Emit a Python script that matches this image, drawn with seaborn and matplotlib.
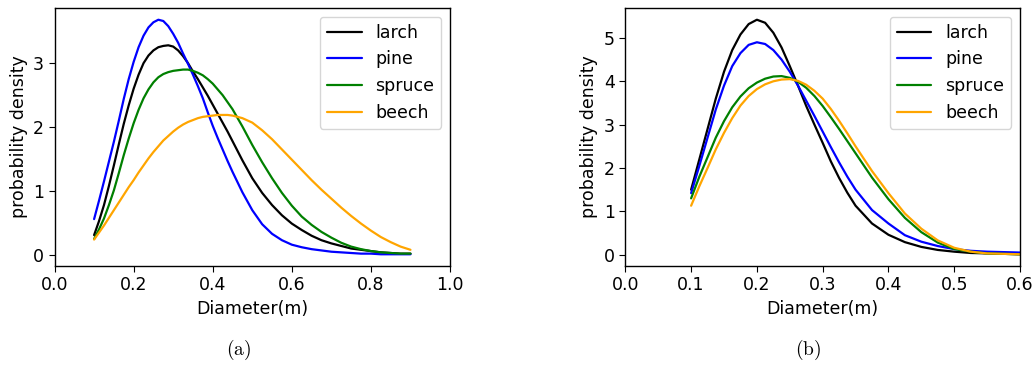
#%% Diameter distributions per species - two panels

import numpy as np
import pandas as pd
import seaborn as sns
import matplotlib
matplotlib.use('Agg')
import matplotlib.pyplot as plt

#%% Values

species = ['larch', 'pine', 'spruce', 'beech']
cores = {'larch': 'black', 'pine': 'blue', 'spruce': 'green', 'beech': 'orange'}

# panel (a)
diam_a = [0.1000, 0.1125, 0.1250, 0.1375, 0.1500, 0.1625, 0.1750, 0.1875, 0.2000, 0.2125,
          0.2250, 0.2375, 0.2500, 0.2625, 0.2750, 0.2875, 0.3000, 0.3125, 0.3250, 0.3375,
          0.3500, 0.3625, 0.3750, 0.3875, 0.4000, 0.4125, 0.4250, 0.4375, 0.4500,
          0.475, 0.500, 0.525, 0.550, 0.575, 0.600, 0.625, 0.650, 0.675, 0.700,
          0.725, 0.750, 0.775, 0.800, 0.825, 0.850, 0.875, 0.900]
larch_a = [0.31, 0.53, 0.78, 1.08, 1.40, 1.73, 2.05, 2.34, 2.60, 2.82,
           3.00, 3.12, 3.20, 3.25, 3.27, 3.28, 3.26, 3.20, 3.11, 3.00,
           2.87, 2.75, 2.62, 2.49, 2.35, 2.21, 2.07, 1.93, 1.78,
           1.48, 1.20, 0.97, 0.78, 0.62, 0.49, 0.39, 0.30, 0.23, 0.18,
           0.14, 0.10, 0.08, 0.06, 0.04, 0.03, 0.02, 0.02]
pine_a = [0.56, 0.85, 1.15, 1.46, 1.77, 2.10, 2.44, 2.75, 3.02, 3.25,
          3.43, 3.56, 3.64, 3.68, 3.66, 3.58, 3.46, 3.32, 3.15, 2.99,
          2.82, 2.64, 2.45, 2.23, 2.02, 1.83, 1.65, 1.47, 1.30,
          0.98, 0.70, 0.48, 0.33, 0.23, 0.16, 0.12, 0.09, 0.07, 0.05,
          0.04, 0.03, 0.02, 0.02, 0.01, 0.01, 0.01, 0.01]
spruce_a = [0.25, 0.40, 0.57, 0.78, 1.01, 1.28, 1.56, 1.82, 2.06, 2.27,
            2.45, 2.59, 2.70, 2.78, 2.83, 2.86, 2.88, 2.89, 2.90, 2.90,
            2.88, 2.85, 2.81, 2.75, 2.68, 2.59, 2.50, 2.39, 2.28,
            2.01, 1.72, 1.45, 1.20, 0.97, 0.77, 0.60, 0.47, 0.36, 0.27,
            0.19, 0.13, 0.09, 0.06, 0.04, 0.03, 0.02, 0.02]
beech_a = [0.24, 0.35, 0.46, 0.58, 0.70, 0.82, 0.94, 1.06, 1.17, 1.29,
           1.40, 1.51, 1.61, 1.70, 1.79, 1.86, 1.93, 1.99, 2.04, 2.08,
           2.11, 2.14, 2.16, 2.17, 2.18, 2.19, 2.19, 2.19, 2.18,
           2.14, 2.07, 1.95, 1.81, 1.65, 1.49, 1.33, 1.17, 1.02, 0.88,
           0.74, 0.61, 0.49, 0.38, 0.28, 0.20, 0.13, 0.08]

# panel (b)
diam_b = [0.1000, 0.1125, 0.1250, 0.1375, 0.1500, 0.1625, 0.1750, 0.1875, 0.2000, 0.2125,
          0.2250, 0.2375, 0.2500, 0.2625, 0.2750, 0.2875, 0.3000, 0.3125, 0.3250, 0.3375,
          0.3500, 0.375, 0.400, 0.425, 0.450, 0.475, 0.500, 0.525, 0.550, 0.575,
          0.600]
larch_b = [1.50, 2.20, 2.90, 3.60, 4.22, 4.72, 5.08, 5.32, 5.42, 5.35,
           5.12, 4.78, 4.35, 3.90, 3.43, 3.00, 2.58, 2.15, 1.77, 1.43,
           1.13, 0.72, 0.46, 0.29, 0.18, 0.11, 0.07, 0.04, 0.03, 0.02,
           0.01]
pine_b = [1.42, 2.05, 2.70, 3.35, 3.90, 4.35, 4.65, 4.84, 4.90, 4.86,
          4.72, 4.50, 4.22, 3.90, 3.55, 3.20, 2.84, 2.48, 2.13, 1.80,
          1.50, 1.03, 0.72, 0.45, 0.30, 0.20, 0.13, 0.09, 0.07, 0.06,
          0.05]
spruce_b = [1.30, 1.80, 2.25, 2.70, 3.08, 3.40, 3.65, 3.84, 3.97, 4.06,
            4.11, 4.12, 4.08, 3.99, 3.85, 3.66, 3.43, 3.17, 2.90, 2.62,
            2.34, 1.78, 1.28, 0.85, 0.52, 0.28, 0.13, 0.07, 0.03, 0.02,
            0.01]
beech_b = [1.13, 1.58, 2.00, 2.43, 2.81, 3.15, 3.44, 3.66, 3.82, 3.93,
           4.00, 4.04, 4.05, 4.01, 3.92, 3.78, 3.60, 3.36, 3.09, 2.80,
           2.50, 1.93, 1.42, 0.95, 0.60, 0.33, 0.16, 0.07, 0.03, 0.02,
           0.01]

#%% Montando dataframes longos

def monta_df(diam, series):
    partes = []
    for nome, vals in zip(species, series):
        partes.append(pd.DataFrame({'Diametro': diam, 'Densidade': vals, 'Especie': nome}))
    return pd.concat(partes, ignore_index=True)

df_a = monta_df(diam_a, [larch_a, pine_a, spruce_a, beech_a])
df_b = monta_df(diam_b, [larch_b, pine_b, spruce_b, beech_b])

#%% Gráfico

sns.set_style('ticks', {'axes.edgecolor': 'black', 'xtick.color': 'black', 'ytick.color': 'black',
                        'text.color': 'black', 'axes.labelcolor': 'black'})
plt.rcParams['font.family'] = ['DejaVu Sans']
plt.rcParams['mathtext.fontset'] = 'cm'

fs = 12.5
fig = plt.figure(figsize=(10.35, 3.67), dpi=100)
ax1 = fig.add_axes([0.0527, 0.2752, 0.3821, 0.703])
ax2 = fig.add_axes([0.6042, 0.2752, 0.3813, 0.703])

for ax, df, lim, passo in [(ax1, df_a, 1.0, 0.2), (ax2, df_b, 0.6, 0.1)]:
    for nome in species:
        sub = df[df['Especie'] == nome]
        sns.lineplot(data=sub, x='Diametro', y='Densidade', color=cores[nome],
                     label=nome, linewidth=1.6, ax=ax)
    ax.set_xlim(0, lim)
    ax.set_xticks(np.round(np.arange(0, lim + 1e-9, passo), 1))
    ax.set_xlabel('Diameter(m)', fontsize=fs)
    ax.set_ylabel('probability density', fontsize=fs)
    ax.tick_params(labelsize=fs, length=4)
    for s in ax.spines.values():
        s.set_linewidth(1.0)
    ax.legend(loc='upper right', fontsize=fs, frameon=True)

fig.text(0.230, 0.047, r'$\mathrm{(a)}$', fontsize=14, ha='center', va='center')
fig.text(0.781, 0.047, r'$\mathrm{(b)}$', fontsize=14, ha='center', va='center')

fig.savefig('out.png', dpi=100)
